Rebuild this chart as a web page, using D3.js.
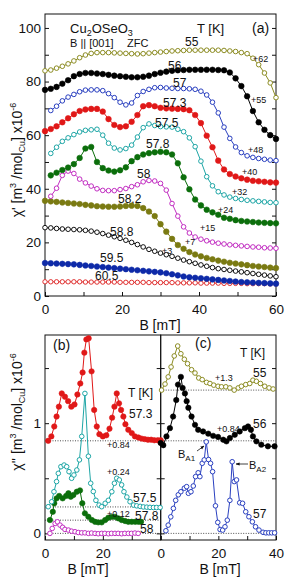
<!DOCTYPE html>
<html>
<head>
<meta charset="utf-8">
<script src="https://cdn.jsdelivr.net/npm/d3@7"></script>
<style>
  body { margin: 0; background: #fff; }
  text { font-family: "Liberation Sans", Arial, Helvetica, sans-serif; }
</style>
</head>
<body>
<div id="chart"></div>
<script>
// ---------- panel (a): chi' vs B, one field grid ----------
const fieldA = [0, 1.5, 3, 4.5, 6, 7.5, 9, 10.5, 12, 13.5, 15, 16.5, 18, 19.5, 21, 22.5, 24, 25.5, 27, 28.5,
  30, 31.5, 33, 34.5, 36, 37.5, 39, 40.5, 42, 43.5, 45, 46.5, 48, 49.5, 51, 52.5, 54, 55.5, 57, 58.5, 60];

const chiA55 = [84, 84.3, 85, 85.7, 86.6, 87.7, 88.9, 89.9, 90.5, 90.8, 90.8, 90.8, 90.7, 90.6, 90.5, 90.4, 90.3, 90.4, 90.6, 90.8,
  91, 91.2, 91.4, 91.5, 91.6, 91.7, 91.7, 91.7, 91.7, 91.7, 91.7, 91.6, 91.4, 91.2, 90.8, 90.4, 88.7, 86.3, 83.2, 79.5, 74];
const chiA56 = [76.9, 77.3, 78, 79.2, 80.5, 82, 82.8, 83.2, 83.2, 83, 82.8, 82.5, 82.2, 82, 81.8, 81.6, 81.6, 81.8, 82.2, 82.8,
  83.3, 83.7, 84, 84.2, 84.3, 84.4, 84.4, 84.4, 84.4, 84.4, 84.3, 84.2, 83.4, 81.2, 78.3, 74.5, 69, 64.8, 62, 60, 58.6];
const chiA57 = [null, 69.2, 70.8, 72.8, 74.2, 75.2, 76.2, 76.8, 76.9, 76.9, 76.6, 75.5, 74, 72.3, 71.3, 72, 74.8, 76.3, 77.1, 77.7,
  77.8, 77.6, 77.5, 77.4, 77.4, 77.3, 77.1, 76.4, 75, 72.3, 68.3, 63, 58.8, 55.6, 53.5, 52.3, 51.7, 51.3, 51, 50.7, 50.5];
const chiA573 = [61.5, 62.3, 63.3, 64.8, 66.3, 67.8, 69, 69.6, 69.8, 69.8, 68.8, 66, 63.8, 63, 63.3, 65, 67.5, 70.8, 71.2, 70.8,
  70.2, 70, 69.9, 69.8, 69.7, 69.3, 67.5, 64.5, 59.8, 55.5, 50.5, 47.2, 45.5, 44.6, 43.9, 43.4, 43, 42.8, 42.6, 42.4, 42.3];
const chiA575 = [null, 53.2, 55.5, 57.7, 59, 60.2, 61.2, 61.8, 62, 62.2, 60, 57, 55.2, 54.5, 55, 56.3, 59.3, 62.8, 64.2, 63.6,
  63.2, 63.1, 63, 62.2, 61.3, 59, 55.7, 50.3, 44.5, 41.1, 38.9, 37.7, 36.9, 36.4, 36, 35.7, 35.5, 35.3, 35.1, 34.9, 34.8];
const chiA578 = [null, 45, 46, 47, 47.9, 49.2, 51.5, 55, 55.6, 50, 47.7, 46.8, 46.4, 46.9, 48, 50.3, 51.8, 52.8, 53.3, 53.6,
  53.8, 53.6, 52.8, 49.5, 44.3, 39.8, 36, 33.8, 32.2, 31.2, 30.3, 29.2, 28.8, 28.3, 28, 27.8, 27.6, 27.4, 27.3, 27.2, 27.1];
const chiA58 = [null, 37.2, 40.2, 45, 46.6, 45.7, 43.6, 42.2, 41, 40, 39.4, 39.3, 39.3, 39.7, 40.1, 40.8, 41.5, 42.6, 43.1, 42.9,
  42, 39.5, 34.5, 29.8, 25.8, 23.5, 22, 21.2, 20.6, 20.1, 19.7, 19.4, 19.1, 18.9, 18.7, 18.5, 18.3, 18.2, 18, 17.9, 17.8];
const chiA582 = [35.5, 35.3, 35.1, 34.9, 34.7, 34.5, 34.3, 34, 33.8, 33.5, 33.4, 33.3, 33.3, 33.4, 33.6, 33.7, 33.6, 32.8, 31.5, 29.8,
  26.8, 24, 21.3, 19, 17.6, 16.4, 15.5, 14.8, 14.2, 13.7, 13.2, 12.8, 12.4, 12.1, 11.8, 11.5, 11.2, 11, 10.8, 10.6, 10.4];
const chiA588 = [25.5, 25.4, 25.2, 25, 24.9, 24.8, 24.7, 24.5, 24.2, 23.8, 23.3, 22.7, 22.1, 21.5, 20.8, 20, 19.2, 18.3, 17.4, 16.7,
  16, 15.4, 14.8, 14.1, 13.4, 12.8, 12.2, 11.6, 11.1, 10.6, 10.2, 9.9, 9.6, 9.3, 9, 8.7, 8.4, 8.1, 7.8, 7.5, 7.2];
const chiA595 = [12.3, 12.2, 12.1, 12, 11.9, 11.8, 11.6, 11.4, 11.2, 11, 10.8, 10.6, 10.4, 10.2, 10, 9.8, 9.6, 9.4, 9.2, 9,
  8.8, 8.5, 8.1, 7.7, 7.3, 7, 6.8, 6.6, 6.4, 6.2, 6, 5.8, 5.6, 5.4, 5.2, 5.1, 5, 4.9, 4.8, 4.7, 4.6];
const chiA605 = [5.3, 5.3, 5.3, 5.3, 5.3, 5.3, 5.3, 5.2, 5.2, 5.2, 5.2, 5.2, 5.2, 5.1, 5.1, 5.1, 5.1, 5.1, 5, 5,
  5, 5, 5, 4.9, 4.9, 4.9, 4.9, 4.8, 4.8, 4.8, 4.8, 4.7, 4.7, 4.7, 4.7, 4.6, 4.6, 4.6, 4.6, 4.5, 4.5];

// ---------- panel (b): chi'' vs B ----------
const fieldB573 = [1.1, 2.2, 3.2, 4.0, 4.8, 5.8, 6.9, 8.0, 9.1, 10.2, 11.2, 12.2, 13.0, 13.6, 14.3, 15.1, 16.1, 17.0, 17.9, 18.8,
  20.0, 21.2, 22.3, 23.2, 24.0, 24.8, 25.6, 26.3, 27.1, 27.8, 28.8, 30.0, 31.1, 32.3, 33.4, 34.5, 35.6, 36.7, 37.8, 39.0, 40.0];
const chiB573 = [0.84, 0.88, 0.97, 1.06, 1.15, 1.27, 1.24, 1.2, 1.15, 1.17, 1.26, 1.36, 1.46, 1.64, 1.76, 1.77, 1.47, 1.12, 0.97, 0.9,
  0.88, 0.89, 0.95, 1.05, 1.15, 1.27, 1.18, 1.12, 1.06, 0.99, 0.94, 0.91, 0.88, 0.87, 0.86, 0.855, 0.85, 0.85, 0.845, 0.845, 0.845];
const fieldB575 = [1.1, 2.3, 3.1, 4.0, 4.6, 5.5, 6.6, 7.5, 8.3, 9.2, 10.0, 11.0, 11.9, 12.7, 13.8, 15.0, 15.8, 16.7, 17.6, 18.7,
  19.6, 20.8, 21.9, 23.1, 24.0, 24.8, 25.7, 26.5, 27.3, 28.3, 29.4, 30.6, 31.7, 32.9, 34.0, 35.2, 36.3, 37.5, 38.6, 39.8];
const chiB575 = [0.242, 0.287, 0.378, 0.47, 0.545, 0.605, 0.62, 0.605, 0.56, 0.5, 0.53, 0.575, 0.667, 0.88, 1.27, 0.7, 0.455, 0.38, 0.3, 0.257,
  0.242, 0.273, 0.3, 0.378, 0.455, 0.5, 0.485, 0.44, 0.378, 0.33, 0.287, 0.257, 0.25, 0.245, 0.24, 0.238, 0.236, 0.235, 0.235, 0.235];
const fieldB578 = [1.7, 2.7, 3.2, 4.0, 4.9, 6.1, 7.3, 8.1, 8.9, 9.8, 11.0, 12.1, 12.9, 13.8, 15.0, 16.2, 17.3, 18.4, 19.6, 20.8,
  21.9, 23.1, 24.2, 25.4, 26.5, 27.7, 28.8, 30.0, 31.2, 32.3, 33.2];
const chiB578 = [0.121, 0.196, 0.273, 0.318, 0.34, 0.318, 0.34, 0.364, 0.333, 0.348, 0.378, 0.39, 0.273, 0.182, 0.151, 0.121, 0.105, 0.1, 0.1, 0.121,
  0.142, 0.15, 0.15, 0.136, 0.121, 0.112, 0.105, 0.105, 0.105, 0.105, 0.105];
const fieldB58 = [1.7, 2.5, 3.5, 4.3, 5.2, 6.1, 6.9, 8.1, 9.2, 10.4, 11.5, 12.7, 13.8, 15.0, 16.1, 17.3, 18.4, 19.6, 20.7, 21.9,
  23.0, 24.2, 25.3, 26.5, 27.6, 28.8, 29.9, 31.1, 32.2];
const chiB58 = [0, 0.045, 0.09, 0.105, 0.075, 0.055, 0.036, 0.03, 0.02, 0.015, 0.008, 0.005, 0.005, 0, 0.003, 0, -0.003, 0, 0, -0.003,
  0, 0, 0, -0.003, 0, 0, 0, 0.003, 0];

// ---------- panel (c) ----------
const fieldC55 = [0.3, 1.5, 2.6, 3.6, 4.7, 5.9, 7.0, 8.2, 9.3, 10.7, 11.9, 13.2, 14.4, 15.9, 17.1, 18.4, 19.9, 21.1, 22.6, 24.0,
  25.5, 26.9, 28.0, 29.5, 30.9, 32.0, 33.2, 34.6, 36.1, 37.6, 39.0];
const chiC55 = [1.30, 1.355, 1.42, 1.51, 1.61, 1.70, 1.63, 1.58, 1.54, 1.485, 1.455, 1.41, 1.395, 1.37, 1.36, 1.345, 1.335, 1.33, 1.33, 1.32,
  1.30, 1.32, 1.335, 1.35, 1.36, 1.39, 1.38, 1.36, 1.335, 1.32, 1.31];
const fieldC56 = [0, 0.9, 2.0, 3.2, 4.3, 5.4, 6.0, 7.0, 7.6, 8.4, 9.0, 9.6, 10.7, 11.9, 13.0, 14.7, 16.5, 18.2, 19.9, 21.7,
  22.8, 24.0, 25.7, 27.4, 29.2, 30.3, 31.3, 32.0, 33.2, 34.9, 37.2, 39.5];
const chiC56 = [0.82, 0.80, 0.88, 0.955, 1.06, 1.21, 1.35, 1.42, 1.32, 1.27, 1.20, 1.14, 1.06, 0.985, 0.94, 0.925, 0.905, 0.885, 0.875, 0.85,
  0.835, 0.865, 0.895, 0.925, 0.955, 0.97, 0.94, 0.88, 0.835, 0.805, 0.79, 0.79];
const fieldC57 = [1.8, 2.6, 3.5, 4.4, 5.2, 6.1, 7.0, 8.2, 9.0, 9.6, 10.5, 11.3, 12.1, 13.0, 13.6, 14.4, 15.1, 15.8, 16.6, 17.3,
  18.0, 19.0, 19.8, 20.6, 21.5, 22.3, 23.1, 24.0, 24.8, 25.5, 26.3, 27.4, 28.4, 29.5, 30.6, 31.8, 32.9, 34.1, 35.5, 36.5,
  37.5, 38.5, 39.5];
const chiC57 = [0.024, 0.075, 0.15, 0.227, 0.30, 0.35, 0.378, 0.41, 0.424, 0.364, 0.378, 0.43, 0.515, 0.55, 0.515, 0.636, 0.667, 0.83, 0.67, 0.636,
  0.56, 0.25, 0.1, 0.035, 0.03, 0.06, 0.12, 0.3, 0.65, 0.47, 0.485, 0.278, 0.273, 0.196, 0.151, 0.105, 0.06, 0.03, 0.01, 0.005,
  0.005, 0.005, 0.005];

// ticks
const ticksAX = [0, 10, 20, 30, 40, 50, 60];
const labelsAX = [0, 20, 40, 60];
const ticksAY = [0, 10, 20, 30, 40, 50, 60, 70, 80, 90, 100];
const labelsAY = [0, 20, 40, 60, 80, 100];
const ticksBX = [0, 10, 20, 30, 40];
const labelsBX = [0, 20];
const labelsCX = [0, 20, 40];
const ticksBY = [0, 0.5, 1, 1.5];
const labelsBY = [0, 1];
const offsetsB = [0.84, 0.24, 0.12, 0];
const offsetsC = [1.3, 0.84, 0];

const OLIVE = "#8c8c22", OLIVE2 = "#7a7a12", BLUE = "#2a40c0", BLUE2 = "#0e2aa8",
  RED = "#e01818", CYAN = "#1ea6a6", GREEN = "#0b6e0b", MAGENTA = "#c22ec2";

const svg = d3.select("#chart").append("svg")
  .attr("width", 291)
  .attr("height", 579);

svg.append("rect").attr("width", 291).attr("height", 579).attr("fill", "#fff");

const xA = d3.scaleLinear().domain([0, 60]).range([45, 276]);
const yA = d3.scaleLinear().domain([0, 105.2]).range([296, 14]);
const xB = d3.scaleLinear().domain([0, 40]).range([45, 160.7]);
const xC = d3.scaleLinear().domain([0, 40]).range([160.7, 276]);
const yB = d3.scaleLinear().domain([-0.06, 1.80]).range([540, 335]);

function styleAxis(sel) {
  sel.select(".domain").remove();
  sel.selectAll("text").attr("font-size", 13.5).attr("font-family", "Liberation Sans, Arial, sans-serif").attr("fill", "#111");
  sel.selectAll("line").attr("stroke", "#111");
  // drop blank tick labels
  sel.selectAll("text").filter(function () { return this.textContent === ""; }).remove();
}

function axes(x, y, top, bottom, left, right, xt, xl, yt, yl, showLeft) {
  svg.append("g")
    .attr("transform", `translate(0, ${bottom})`)
    .call(d3.axisBottom(x).tickValues(xt).tickSize(-4).tickPadding(8)
      .tickFormat((d) => (xl.includes(d) ? d : "")))
    .call(styleAxis);
  svg.append("g")
    .attr("transform", `translate(${left}, 0)`)
    .call(d3.axisLeft(y).tickValues(yt).tickSize(-4).tickPadding(4)
      .tickFormat((d) => (showLeft && yl.includes(d) ? d : "")))
    .call(styleAxis);
  svg.append("g")
    .attr("transform", `translate(${right}, 0)`)
    .call(d3.axisRight(y).tickValues(yt).tickSize(-4).tickFormat(""))
    .call(styleAxis);
  svg.append("rect")
    .attr("x", left).attr("y", top)
    .attr("width", right - left).attr("height", bottom - top)
    .attr("fill", "none").attr("stroke", "#111").attr("stroke-width", 1);
}

function series(x, y, xs, ys, color, filled, r) {
  const pts = xs.map((b, i) => [b, ys[i]]).filter((p) => p[1] !== null);
  const line = d3.line().x((d) => x(d[0])).y((d) => y(d[1]));
  const g = svg.append("g");
  g.append("path").datum(pts)
    .attr("d", line).attr("fill", "none")
    .attr("stroke", color).attr("stroke-width", 1);
  g.selectAll("circle").data(pts).enter().append("circle")
    .attr("cx", (d) => x(d[0])).attr("cy", (d) => y(d[1]))
    .attr("r", r)
    .attr("fill", filled ? color : "#fff")
    .attr("stroke", color).attr("stroke-width", filled ? 0.6 : 1);
}

function label(x, y, txt, size, anchor) {
  return svg.append("text").attr("x", x).attr("y", y)
    .attr("font-size", size).attr("text-anchor", anchor || "start")
    .attr("fill", "#111").text(txt);
}

// ---------- panel (a) ----------
axes(xA, yA, 14, 296, 45, 276, ticksAX, labelsAX, ticksAY, labelsAY, true);

series(xA, yA, fieldA, chiA605, "#e03030", false, 2.2);
series(xA, yA, fieldA, chiA595, BLUE2, true, 2.8);
series(xA, yA, fieldA, chiA588, "#111", false, 2.3);
series(xA, yA, fieldA, chiA582, OLIVE2, true, 2.8);
series(xA, yA, fieldA, chiA58, MAGENTA, false, 2.3);
series(xA, yA, fieldA, chiA578, GREEN, true, 2.8);
series(xA, yA, fieldA, chiA575, CYAN, false, 2.3);
series(xA, yA, fieldA, chiA573, RED, true, 2.8);
series(xA, yA, fieldA, chiA57, BLUE, false, 2.3);
series(xA, yA, fieldA, chiA56, "#000", true, 2.8);
series(xA, yA, fieldA, chiA55, OLIVE, false, 2.3);

const cu = label(70, 33, "Cu", 13);
cu.append("tspan").attr("font-size", 9).attr("dy", 3).text("2");
cu.append("tspan").attr("dy", -3).text("OSeO");
cu.append("tspan").attr("font-size", 9).attr("dy", 3).text("3");
label(70, 47, "B || [001]", 11);
label(127, 47, "ZFC", 11);
label(197, 33, "T [K]", 13);
label(252, 33, "(a)", 14);

[["55", 185, 46], ["56", 168, 70], ["57", 173, 87], ["57.3", 163, 107], ["57.5", 155, 127],
 ["57.8", 146, 148], ["58", 137, 178], ["58.2", 118, 203], ["58.8", 110, 236],
 ["59.5", 100, 262], ["60.5", 95, 280]].forEach((d) => label(d[1], d[2], d[0], 12));

[["+62", 253, 62], ["+55", 251, 103], ["+48", 248, 153], ["+40", 242, 175], ["+32", 232, 195],
 ["+24", 218, 213], ["+15", 200, 231], ["+7", 185, 245], ["+3", 162, 254]]
  .forEach((d) => label(d[1], d[2], d[0], 9));

label(160, 330, "B [mT]", 14, "middle");

function yTitle(cx, cy, prime) {
  const t = svg.append("text")
    .attr("transform", `translate(${cx}, ${cy}) rotate(-90)`)
    .attr("text-anchor", "middle").attr("font-size", 14).attr("fill", "#111");
  t.append("tspan").text(`χ${prime} [m`);
  t.append("tspan").attr("font-size", 9).attr("dy", -6).text("3");
  t.append("tspan").attr("dy", 6).text(" /mol");
  t.append("tspan").attr("font-size", 9).attr("dy", 3).text("Cu");
  t.append("tspan").attr("dy", -3).text("] x10");
  t.append("tspan").attr("font-size", 9).attr("dy", -6).text("-6");
}
yTitle(22, 160, "'");

// ---------- panels (b) and (c) ----------
axes(xB, yB, 335, 540, 45, 160.7, ticksBX, labelsBX, ticksBY, labelsBY, true);
axes(xC, yB, 335, 540, 160.7, 276, ticksBX, labelsCX, ticksBY, labelsBY, false);

offsetsB.forEach((o) => {
  svg.append("line").attr("x1", xB(0)).attr("x2", xB(40)).attr("y1", yB(o)).attr("y2", yB(o))
    .attr("stroke", "#222").attr("stroke-width", 0.8).attr("stroke-dasharray", "1,1.5");
});
offsetsC.forEach((o) => {
  svg.append("line").attr("x1", xC(0)).attr("x2", xC(40)).attr("y1", yB(o)).attr("y2", yB(o))
    .attr("stroke", "#222").attr("stroke-width", 0.8).attr("stroke-dasharray", "1,1.5");
});

series(xB, yB, fieldB58, chiB58, MAGENTA, false, 2.3);
series(xB, yB, fieldB578, chiB578, GREEN, true, 2.7);
series(xB, yB, fieldB575, chiB575, CYAN, false, 2.3);
series(xB, yB, fieldB573, chiB573, RED, true, 2.7);

series(xC, yB, fieldC57, chiC57, BLUE, false, 2.3);
series(xC, yB, fieldC56, chiC56, "#000", true, 2.7);
series(xC, yB, fieldC55, chiC55, OLIVE, false, 2.3);

label(53, 350, "(b)", 14);
label(128, 397, "T [K]", 12);
label(129, 418, "57.3", 12);
label(107, 448, "+0.84", 9);
label(107, 475, "+0.24", 9);
label(133, 502, "57.5", 12);
label(107, 517, "+0.12", 9);
label(135, 520, "57.8", 12);
label(140, 533, "58", 12);

label(195, 348, "(c)", 14);
label(240, 357, "T [K]", 12);
label(253, 377, "55", 12);
label(215, 381, "+1.3", 9);
label(253, 428, "56", 12);
label(217, 432, "+0.84", 9);
label(253, 518, "57", 12);

const ba1 = label(178, 458, "B", 11);
ba1.append("tspan").attr("font-size", 8).attr("dy", 3).text("A1");
const ba2 = label(249, 469, "B", 11);
ba2.append("tspan").attr("font-size", 8).attr("dy", 3).text("A2");

svg.append("defs").append("marker")
  .attr("id", "arr").attr("viewBox", "0 0 10 10").attr("refX", 9).attr("refY", 5)
  .attr("markerWidth", 5).attr("markerHeight", 5).attr("orient", "auto")
  .append("path").attr("d", "M0,1 L10,5 L0,9 z").attr("fill", "#111");
svg.append("line").attr("x1", 197).attr("y1", 451).attr("x2", 204).attr("y2", 446)
  .attr("stroke", "#111").attr("stroke-width", 0.8).attr("marker-end", "url(#arr)");
svg.append("line").attr("x1", 248).attr("y1", 464).attr("x2", 236).attr("y2", 464)
  .attr("stroke", "#111").attr("stroke-width", 0.8).attr("marker-end", "url(#arr)");

label(88, 574, "B [mT]", 14, "middle");
label(220, 574, "B [mT]", 14, "middle");
yTitle(22, 412, "''");
</script>
</body>
</html>
